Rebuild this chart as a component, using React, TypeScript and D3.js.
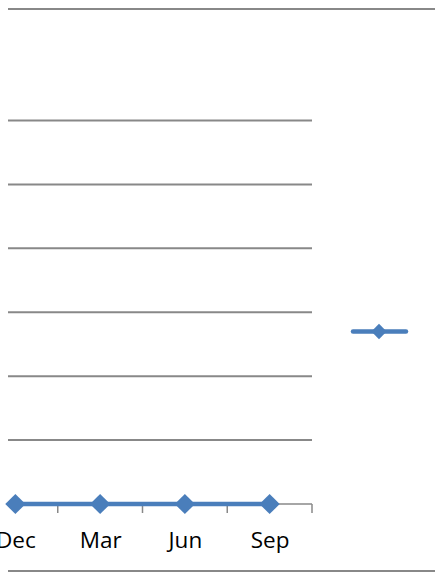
import React from "react";
import * as d3 from "d3";

// Quarterly series (all at zero) and the value axis ticks
const categories = ["Dec", "Mar", "Jun", "Sep"];
const values = [0, 0, 0, 0];
const yTicks = [0, 1, 2, 3, 4, 5, 6];
const seriesName = "Series1";

const W = 435;
const H = 574;
const BLUE = "#4A7EBB";
const GRID = "#888888";
const FONT = "'Open Sans', Lato, 'Liberation Sans', sans-serif";

export default function App() {
  // Category band scale: the plot area begins left of the visible frame
  const x = d3.scaleBand<string>().domain(categories).range([-27, 312]).padding(0);
  const y = d3.scaleLinear().domain([0, 6]).range([504, 120.5]);
  const cx = (c: string) => (x(c) as number) + x.bandwidth() / 2;

  const line = d3
    .line<number>()
    .x((_, i) => cx(categories[i]))
    .y((d) => y(d));

  const diamond = d3.symbol().type(d3.symbolDiamond2).size(260);
  const legendDiamond = d3.symbol().type(d3.symbolDiamond2).size(150);

  const boundaries = categories.map((c) => (x(c) as number) + x.bandwidth());

  return (
    <svg
      width={W}
      height={H}
      style={{ position: "absolute", left: 0, top: 0, background: "#fff" }}
    >
      {/* outer frame rules */}
      <line x1={8} x2={435} y1={9} y2={9} stroke={GRID} strokeWidth={2} />
      <line x1={8} x2={435} y1={571} y2={571} stroke={GRID} strokeWidth={2} />

      {/* horizontal gridlines */}
      {yTicks.map((t) => (
        <line
          key={t}
          x1={8}
          x2={312}
          y1={y(t)}
          y2={y(t)}
          stroke={GRID}
          strokeWidth={t === 0 ? 1.5 : 2}
        />
      ))}

      {/* category tick marks */}
      {boundaries.map((b, i) => (
        <line key={i} x1={b} x2={b} y1={504} y2={513} stroke={GRID} strokeWidth={1.5} />
      ))}

      {/* category labels */}
      {categories.map((c) => (
        <text
          key={c}
          x={cx(c) + 0.5}
          y={548}
          textAnchor="middle"
          fontFamily={FONT}
          fontSize={22.5}
          fill="#000"
        >
          {c}
        </text>
      ))}

      {/* series line and markers */}
      <path d={line(values) || ""} fill="none" stroke={BLUE} strokeWidth={4.5} strokeLinejoin="round" />
      {values.map((v, i) => (
        <path
          key={i}
          d={diamond() || ""}
          transform={`translate(${cx(categories[i])},${y(v)})`}
          fill={BLUE}
        />
      ))}

      {/* legend */}
      <g aria-label={seriesName}>
        <line x1={353} x2={406} y1={331.5} y2={331.5} stroke={BLUE} strokeWidth={4.5} strokeLinecap="round" />
        <path d={legendDiamond() || ""} transform="translate(379,331.5)" fill={BLUE} />
      </g>
    </svg>
  );
}
